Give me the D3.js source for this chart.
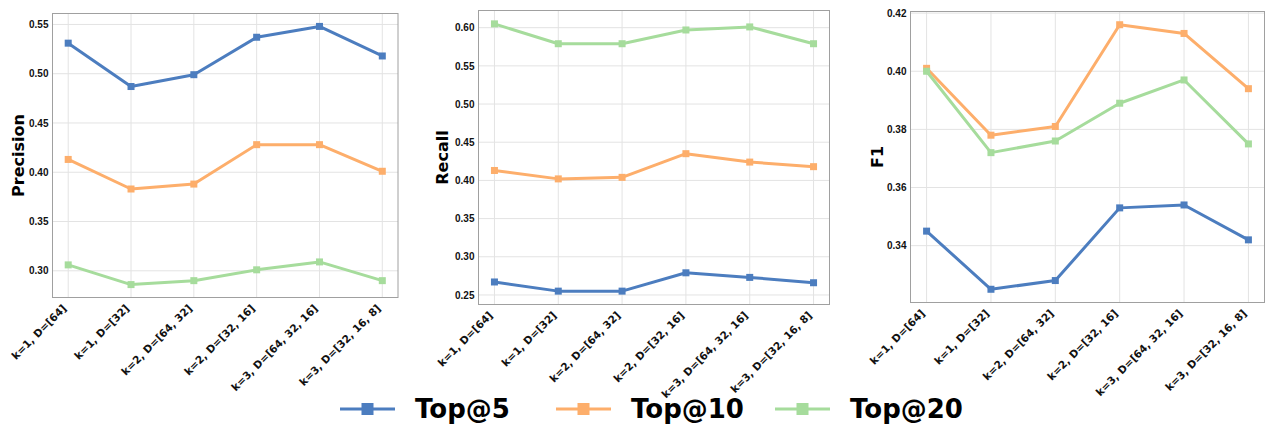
<!DOCTYPE html>
<html>
<head>
<meta charset="utf-8">
<script src="https://cdn.jsdelivr.net/npm/d3@7"></script>
<style>
  body { margin: 0; background: #fff; }
  svg { display: block; font-family: "DejaVu Sans", sans-serif; }
  .grid line { stroke: #e3e3e3; stroke-width: 1; }
  .axis text { font-weight: bold; fill: #111; }
  .axis path, .axis line { display: none; }
</style>
</head>
<body>
<svg width="1275" height="429"></svg>
<script>
const categories = [
  "k=1, D=[64]",
  "k=1, D=[32]",
  "k=2, D=[64, 32]",
  "k=2, D=[32, 16]",
  "k=3, D=[64, 32, 16]",
  "k=3, D=[32, 16, 8]"
];
const seriesNames = ["Top@5", "Top@10", "Top@20"];
const seriesColors = ["#4c7dbf", "#fdae6b", "#a6dc9c"];

const precision5 = [0.531, 0.487, 0.499, 0.537, 0.548, 0.518];
const precision10 = [0.413, 0.383, 0.388, 0.428, 0.428, 0.401];
const precision20 = [0.306, 0.286, 0.290, 0.301, 0.309, 0.290];

const recall5 = [0.267, 0.255, 0.255, 0.279, 0.273, 0.266];
const recall10 = [0.413, 0.402, 0.404, 0.435, 0.424, 0.418];
const recall20 = [0.605, 0.579, 0.579, 0.597, 0.601, 0.579];

const f1Top5 = [0.345, 0.325, 0.328, 0.353, 0.354, 0.342];
const f1Top10 = [0.401, 0.378, 0.381, 0.416, 0.413, 0.394];
const f1Top20 = [0.400, 0.372, 0.376, 0.389, 0.397, 0.375];

const precisionTicks = [0.30, 0.35, 0.40, 0.45, 0.50, 0.55];
const recallTicks = [0.25, 0.30, 0.35, 0.40, 0.45, 0.50, 0.55, 0.60];
const f1Ticks = [0.34, 0.36, 0.38, 0.40, 0.42];

const svg = d3.select("svg");

// panel boxes (plot area), label x position
const panels = [
  { label: "Precision", series: [precision5, precision10, precision20], ticks: precisionTicks, fmt: ".2f",
    left: 52.5, right: 398, top: 13.5, bottom: 297.5, labelX: 18 },
  { label: "Recall", series: [recall5, recall10, recall20], ticks: recallTicks, fmt: ".2f",
    left: 478.5, right: 829.5, top: 10.5, bottom: 304.5, labelX: 442 },
  { label: "F1", series: [f1Top5, f1Top10, f1Top20], ticks: f1Ticks, fmt: ".2f",
    left: 910.5, right: 1264.5, top: 11.5, bottom: 302.5, labelX: 877 }
];

panels.forEach((p) => {
  const g = svg.append("g");
  const n = categories.length;

  const x = d3.scaleLinear()
    .domain([-0.25, n - 0.75])
    .range([p.left, p.right]);

  // y domain like matplotlib autoscale: 5% margin
  const all = p.series.flat();
  const [lo, hi] = d3.extent(all);
  const m = (hi - lo) * 0.05;
  const y = d3.scaleLinear()
    .domain([lo - m, hi + m])
    .range([p.bottom, p.top]);

  // gridlines
  const grid = g.append("g").attr("class", "grid");
  grid.selectAll(".gx")
    .data(d3.range(n))
    .enter()
    .append("line")
    .attr("x1", (d) => x(d)).attr("x2", (d) => x(d))
    .attr("y1", p.top).attr("y2", p.bottom);
  grid.selectAll(".gy")
    .data(p.ticks)
    .enter()
    .append("line")
    .attr("x1", p.left).attr("x2", p.right)
    .attr("y1", (d) => y(d)).attr("y2", (d) => y(d));

  // y axis
  g.append("g")
    .attr("class", "axis")
    .attr("transform", `translate(${p.left},0)`)
    .call(d3.axisLeft(y).tickValues(p.ticks).tickFormat(d3.format(p.fmt)).tickSize(0).tickPadding(4))
    .selectAll("text")
    .style("font-size", "10px");

  // x tick labels, rotated 45
  g.append("g")
    .attr("class", "axis")
    .selectAll("text")
    .data(categories)
    .enter()
    .append("text")
    .attr("transform", (d, i) => `translate(${x(i) - 1},${p.bottom + 11.5}) rotate(-45)`)
    .attr("text-anchor", "end")
    .style("font-size", "10.5px")
    .text((d) => d);

  // frame
  g.append("rect")
    .attr("x", p.left).attr("y", p.top)
    .attr("width", p.right - p.left).attr("height", p.bottom - p.top)
    .attr("fill", "none")
    .attr("stroke", "#a0a0a0")
    .attr("stroke-width", 1);

  // y label
  g.append("text")
    .attr("transform", `translate(${p.labelX},${(p.top + p.bottom) / 2}) rotate(-90)`)
    .attr("text-anchor", "middle")
    .attr("dominant-baseline", "central")
    .style("font-size", "16px")
    .style("font-weight", "bold")
    .text(p.label);

  // lines + markers
  const line = d3.line()
    .x((d, i) => x(i))
    .y((d) => y(d));

  p.series.forEach((vals, s) => {
    g.append("path")
      .datum(vals)
      .attr("d", line)
      .attr("fill", "none")
      .attr("stroke", seriesColors[s])
      .attr("stroke-width", 3)
      .attr("stroke-linejoin", "round");
    g.selectAll(null)
      .data(vals)
      .enter()
      .append("rect")
      .attr("x", (d, i) => x(i) - 3.5)
      .attr("y", (d) => y(d) - 3.5)
      .attr("width", 7)
      .attr("height", 7)
      .attr("fill", seriesColors[s]);
  });
});

// legend
const legendX = [340, 556, 775];
const legendY = 409;
const legend = svg.append("g");
seriesNames.forEach((name, s) => {
  const lx = legendX[s];
  legend.append("line")
    .attr("x1", lx).attr("x2", lx + 55)
    .attr("y1", legendY).attr("y2", legendY)
    .attr("stroke", seriesColors[s])
    .attr("stroke-width", 3);
  legend.append("rect")
    .attr("x", lx + 27.5 - 6).attr("y", legendY - 6)
    .attr("width", 12).attr("height", 12)
    .attr("fill", seriesColors[s]);
  legend.append("text")
    .attr("x", lx + 75)
    .attr("y", legendY)
    .attr("dominant-baseline", "central")
    .style("font-size", "26px")
    .style("font-weight", "bold")
    .text(name);
});
</script>
</body>
</html>
